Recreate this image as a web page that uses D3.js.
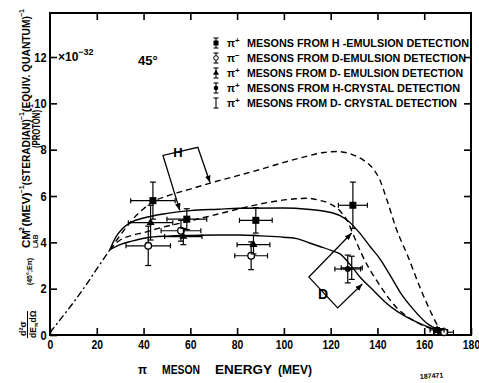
<!DOCTYPE html>
<html><head><meta charset="utf-8">
<script src="https://cdn.jsdelivr.net/npm/d3@7"></script>
<style>
body{margin:0;background:#fff}
svg{display:block}
text{font-family:"Liberation Sans",Arial,sans-serif;fill:#000}
</style></head><body>
<svg id="chart" width="479" height="383"></svg>
<script>
// Axis ticks
const xTicks = [0, 20, 40, 60, 80, 100, 120, 140, 160, 180];
const yTicks = [0, 2, 4, 6, 8, 10, 12];
const innerTicksX = [20, 40, 60, 80, 100, 120, 140, 160];

// Measured points: [energy MeV, cross section (x1e-32), energy error, cross-section error]
const hEmulsionPlus = [
  [44, 5.8, 9.5, 0.8], [58.5, 5.0, 8.5, 0.45], [88, 4.95, 7, 0.55],
  [129.5, 5.6, 6.2, 1.0], [167, 0.15, 3, 0.08]
];
const dEmulsionMinus = [
  [42, 3.85, 9.5, 0.85], [56, 4.5, 8.5, 0.45], [86, 3.42, 7, 0.6], [168.5, 0.12, 4, 0.08]
];
const dEmulsionPlus = [
  [43, 4.85, 9.5, 0.75], [57, 4.25, 8, 0.35], [87, 3.9, 7, 0.4], [165.5, 0.22, 3, 0.1]
];
const hCrystalPlus = [[127.3, 2.85, 5.5, 0.6]];
const dCrystalPlus = [[129, 2.9, 4.5, 0.5]];

// Calculated spectra: [energy MeV, cross section]
const lowEnergyCommon = [[0, 0.1], [5, 0.75], [10, 1.4], [15, 2.1], [20, 2.85], [25.6, 3.68]];
const hDashed = [[25.6, 3.68], [30, 4.3], [35, 4.95], [40, 5.45], [44, 5.75], [50, 6.0], [60, 6.3],
  [70, 6.6], [81, 6.9], [90, 7.15], [100, 7.45], [110, 7.72], [117, 7.88], [123, 7.92], [129, 7.8],
  [134, 7.55], [138, 7.2], [141, 6.7], [144, 5.85], [148, 4.6], [153, 3.4], [158, 2.1], [163, 0.95], [167, 0.15]];
const hSolid = [[25.6, 3.68], [28, 4.2], [31, 4.6], [35, 4.88], [40, 5.05], [50, 5.25], [60, 5.37],
  [72, 5.43], [81, 5.47], [100, 5.48], [110, 5.43], [118, 5.33], [124, 5.15], [128, 4.88], [132, 4.45],
  [137, 3.8], [141, 3.3], [145, 2.65], [150, 1.8], [155, 1.15], [161, 0.52], [167, 0.18]];
const dDashed = [[25.6, 3.68], [30, 4.1], [35, 4.3], [40, 4.42], [48, 4.65], [55.5, 4.82], [65, 5.05],
  [75, 5.3], [85, 5.55], [95, 5.75], [105, 5.88], [110, 5.9], [115, 5.82], [120, 5.65], [124, 5.35],
  [127, 4.95], [130, 4.25], [133, 3.55], [136, 2.95], [140, 2.3], [148, 1.2], [155, 0.65], [161, 0.35], [166, 0.18]];
const dSolid = [[25.6, 3.68], [30, 3.9], [35, 4.05], [41.5, 4.2], [50, 4.27], [60, 4.3], [72, 4.32],
  [81, 4.32], [90, 4.28], [100, 4.22], [106, 4.15], [111, 3.97], [116, 3.8], [121, 3.62], [124, 3.5],
  [128, 3.08], [133, 2.45], [138, 1.95], [143, 1.45], [148, 1.05], [153, 0.75], [158, 0.5], [163, 0.3], [167, 0.2]];

// Bracket annotations (data units), arrowheads at both ends
const hBracket = [[55.5, 5.38], [48.3, 7.75], [63.2, 8.1], [68.4, 6.58]];
const hLabelAt = [54.7, 7.9];
const dBracket = [[129, 4.4], [110.7, 2.5], [123, 1.17], [133.5, 2.2]];
const dLabelAt = [116.7, 1.75];

const legendItems = [
  {sym: "square", sign: "+", text: "MESONS  FROM  H -EMULSION  DETECTION"},
  {sym: "circle", sign: "−", text: "MESONS  FROM  D-EMULSION  DETECTION"},
  {sym: "triangle", sign: "+", text: "MESONS  FROM  D- EMULSION  DETECTION"},
  {sym: "barcircle", sign: "+", text: "MESONS  FROM  H-CRYSTAL  DETECTION"},
  {sym: "ibeam", sign: "+", text: "MESONS  FROM  D- CRYSTAL  DETECTION"}
];

const svg = d3.select("#chart");
const x = d3.scaleLinear().domain([0, 180]).range([50, 471]);
const y = d3.scaleLinear().domain([0, 13.9]).range([335, 13]);

const defs = svg.append("defs");
defs.append("marker").attr("id", "arrow").attr("viewBox", "0 0 10 10")
  .attr("refX", 10).attr("refY", 5).attr("markerWidth", 7).attr("markerHeight", 7)
  .attr("markerUnits", "userSpaceOnUse").attr("orient", "auto-start-reverse")
  .append("path").attr("d", "M0,1L10,5L0,9z").attr("fill", "#000");

// Axes with inward ticks
const gB = svg.append("g").attr("transform", `translate(0,${y(0)})`)
  .call(d3.axisBottom(x).tickValues(xTicks).tickSizeInner(-7).tickSizeOuter(0).tickPadding(5));
const gL = svg.append("g").attr("transform", `translate(${x(0)},0)`)
  .call(d3.axisLeft(y).tickValues(yTicks).tickSizeInner(-7).tickSizeOuter(0).tickPadding(4));
const gT = svg.append("g").attr("transform", `translate(0,${y(13.9)})`)
  .call(d3.axisTop(x).tickValues(innerTicksX).tickSizeInner(-7).tickSizeOuter(0).tickFormat(""));
const gR = svg.append("g").attr("transform", `translate(${x(180)},0)`)
  .call(d3.axisRight(y).tickValues(yTicks.slice(1)).tickSizeInner(-7).tickSizeOuter(0).tickFormat(""));
[gB, gL, gT, gR].forEach(g => {
  g.select(".domain").remove();
  g.selectAll(".tick line").attr("stroke", "#000").attr("stroke-width", 1.6);
  g.selectAll("text").attr("font-family", "Liberation Sans, Arial, sans-serif")
    .attr("font-size", 13).attr("font-weight", "bold").attr("fill", "#000");
});
// condensed tick numerals
gB.selectAll(".tick text").attr("transform", "scale(0.8,1)");
gL.selectAll(".tick text").attr("transform", "scale(0.85,1)");

svg.append("rect").attr("x", x(0)).attr("y", y(13.9))
  .attr("width", x(180) - x(0)).attr("height", y(0) - y(13.9))
  .attr("fill", "none").attr("stroke", "#000").attr("stroke-width", 2);

// Curves
const lineGen = d3.line().x(d => x(d[0])).y(d => y(d[1])).curve(d3.curveMonotoneX);
const curveG = svg.append("g").attr("fill", "none").attr("stroke", "#000").attr("stroke-width", 1.4);
curveG.append("path").attr("d", lineGen(lowEnergyCommon)).attr("stroke-dasharray", "7,3,2,3");
curveG.append("path").attr("d", lineGen(hDashed)).attr("stroke-dasharray", "6,4");
curveG.append("path").attr("d", lineGen(dDashed)).attr("stroke-dasharray", "6,4");
curveG.append("path").attr("d", lineGen(hSolid));
curveG.append("path").attr("d", lineGen(dSolid));

// Brackets
const bracketLine = d3.line().x(d => x(d[0])).y(d => y(d[1]));
[hBracket, dBracket].forEach(b => {
  svg.append("path").attr("d", bracketLine(b)).attr("fill", "none").attr("stroke", "#000")
    .attr("stroke-width", 1.3).attr("marker-start", "url(#arrow)").attr("marker-end", "url(#arrow)");
});
svg.append("text").attr("x", x(hLabelAt[0])).attr("y", y(hLabelAt[1])).attr("dy", "0.35em")
  .attr("text-anchor", "middle").attr("font-size", 13).attr("font-weight", "bold").text("H");
svg.append("text").attr("x", x(dLabelAt[0])).attr("y", y(dLabelAt[1])).attr("dy", "0.35em")
  .attr("text-anchor", "middle").attr("font-size", 14).attr("font-weight", "bold").text("D");

// Marker glyphs
function drawSymbol(g, sym, cx, cy) {
  if (sym === "square") {
    g.append("rect").attr("x", cx - 3.5).attr("y", cy - 3.5).attr("width", 7).attr("height", 7).attr("fill", "#000");
  } else if (sym === "circle") {
    g.append("circle").attr("cx", cx).attr("cy", cy).attr("r", 3.3).attr("fill", "#fff").attr("stroke", "#000").attr("stroke-width", 1.3);
  } else if (sym === "triangle") {
    g.append("path").attr("transform", `translate(${cx},${cy})`).attr("d", d3.symbol(d3.symbolTriangle, 28)()).attr("fill", "#000");
  } else if (sym === "barcircle") {
    g.append("circle").attr("cx", cx).attr("cy", cy).attr("r", 3).attr("fill", "#000");
    g.append("line").attr("x1", cx - 5).attr("x2", cx + 5).attr("y1", cy).attr("y2", cy).attr("stroke", "#000").attr("stroke-width", 1.2);
  }
}
function drawPoint(g, sym, d) {
  const cx = x(d[0]), cy = y(d[1]);
  const x0 = x(d[0] - d[2]), x1 = x(d[0] + d[2]);
  const y0 = y(d[1] - d[3]), y1 = y(d[1] + d[3]);
  const s = g.append("g").attr("stroke", "#000").attr("stroke-width", 1.2);
  s.append("line").attr("x1", x0).attr("x2", x1).attr("y1", cy).attr("y2", cy);
  s.append("line").attr("x1", x0).attr("x2", x0).attr("y1", cy - 2.5).attr("y2", cy + 2.5);
  s.append("line").attr("x1", x1).attr("x2", x1).attr("y1", cy - 2.5).attr("y2", cy + 2.5);
  s.append("line").attr("x1", cx).attr("x2", cx).attr("y1", y0).attr("y2", y1);
  s.append("line").attr("x1", cx - 3).attr("x2", cx + 3).attr("y1", y0).attr("y2", y0);
  s.append("line").attr("x1", cx - 3).attr("x2", cx + 3).attr("y1", y1).attr("y2", y1);
  drawSymbol(g, sym, cx, cy);
}
const pts = svg.append("g");
[["square", hEmulsionPlus], ["circle", dEmulsionMinus], ["triangle", dEmulsionPlus],
 ["barcircle", hCrystalPlus], ["ibeam", dCrystalPlus]].forEach(([sym, arr]) => {
  arr.forEach(d => drawPoint(pts, sym, d));
});

// Legend
const leg = svg.append("g");
legendItems.forEach((it, i) => {
  const cy = 43 + i * 15;
  const s = leg.append("g").attr("stroke", "#000").attr("stroke-width", 1.1);
  s.append("line").attr("x1", 216).attr("x2", 216).attr("y1", cy - 5).attr("y2", cy + 5);
  s.append("line").attr("x1", 213.5).attr("x2", 218.5).attr("y1", cy - 5).attr("y2", cy - 5);
  s.append("line").attr("x1", 213.5).attr("x2", 218.5).attr("y1", cy + 5).attr("y2", cy + 5);
  if (it.sym === "square") {
    leg.append("rect").attr("x", 213.5).attr("y", cy - 2.5).attr("width", 5).attr("height", 5);
  } else if (it.sym === "circle") {
    leg.append("circle").attr("cx", 216).attr("cy", cy).attr("r", 2.3).attr("fill", "#fff").attr("stroke", "#000");
  } else if (it.sym === "triangle") {
    leg.append("path").attr("transform", `translate(216,${cy})`).attr("d", d3.symbol(d3.symbolTriangle, 16)());
  } else if (it.sym === "barcircle") {
    leg.append("circle").attr("cx", 216).attr("cy", cy).attr("r", 2.3);
  }
  const t = leg.append("text").attr("x", 227).attr("y", cy + 4).attr("font-size", 10.5).attr("font-weight", "bold");
  t.append("tspan").text("π");
  t.append("tspan").attr("dy", -4).attr("font-size", 8).text(it.sign);
  t.append("tspan").attr("x", 247).attr("dy", 4).attr("textLength", 222 - i * 3).attr("lengthAdjust", "spacingAndGlyphs").text(it.text);
});

// Scale factor and angle notes
const sc = svg.append("text").attr("x", 58).attr("y", 61).attr("font-size", 12).attr("font-weight", "bold");
sc.append("tspan").text("×10");
sc.append("tspan").attr("dy", -6).attr("font-size", 9).text("−32");
svg.append("text").attr("x", 138).attr("y", 65).attr("font-size", 13).attr("font-weight", "bold").text("45°");

// X axis title
const xTitle = [["π", 138, 9], ["MESON", 162, 38], ["ENERGY", 215, 57], ["(MEV)", 278, 34]];
xTitle.forEach(([s, px, w]) => {
  svg.append("text").attr("x", px).attr("y", 374).attr("font-size", 12).attr("font-weight", "bold")
    .attr("textLength", w).attr("lengthAdjust", "spacingAndGlyphs").text(s);
});

// Y axis title (rotated)
function rotText(px, py, size, len) {
  const t = svg.append("text").attr("transform", `translate(${px},${py}) rotate(-90)`)
    .attr("font-size", size).attr("font-weight", "bold");
  if (len) t.attr("textLength", len).attr("lengthAdjust", "spacingAndGlyphs");
  return t;
}
const mainParts = [["CM", 18], ["2", 0], ["(MEV)", 34], ["−1", 0], ["(STERADIAN)", 66], ["−1", 0],
  ["(EQUIV.  QUANTUM)", 96], ["−1", 0]];
let pos = 248;
mainParts.forEach(([s, w], i) => {
  if (w === 0) {
    rotText(24, pos + 1, 7).text(s);
    pos -= s.length * 3.6;
  } else {
    rotText(30, pos, 10.5, w).text(s);
    pos -= w;
  }
});
const prot = rotText(39.5, 148, 10, 38);
prot.text("(PROTON)");
rotText(33, 112, 7).text("−1");
rotText(32, 285, 8, 27).text("(45°;Eπ)");
rotText(38, 248, 6.5).text("LAB");
rotText(26, 336, 9).text("d²σ");
svg.append("line").attr("x1", 27.5).attr("x2", 27.5).attr("y1", 338).attr("y2", 311).attr("stroke", "#000").attr("stroke-width", 1);
const den = rotText(36, 338, 8.5);
den.append("tspan").text("dE");
den.append("tspan").attr("font-size", 6).attr("dy", 2).text("π");
den.append("tspan").attr("dy", -2).text("dΩ");

// Drawing number
svg.append("text").attr("x", 420).attr("y", 379).attr("font-size", 7).attr("font-weight", "bold")
  .attr("transform", "rotate(-4,420,379)").text("187471");
</script>
</body></html>
